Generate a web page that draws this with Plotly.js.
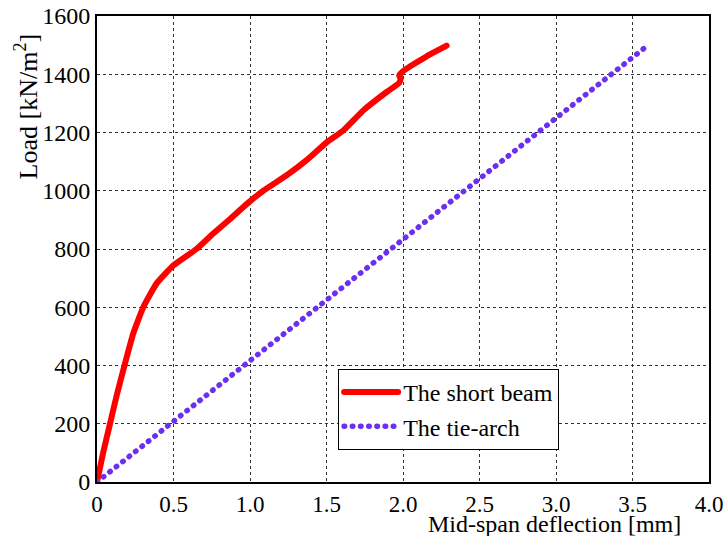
<!DOCTYPE html>
<html>
<head>
<meta charset="utf-8">
<script src="https://cdn.plot.ly/plotly-3.0.1.min.js"></script>
<style>
html,body{margin:0;padding:0;background:#fff;}
#chart path.js-line{stroke-linecap:round;stroke-linejoin:round;}
</style>
</head>
<body>
<div id="chart" style="width:727px;height:536px;"></div>
<script>
// Data
var beamX = [0, 0.04, 0.085, 0.13, 0.183, 0.237, 0.303, 0.39, 0.5, 0.65, 0.76, 0.87, 0.98, 1.087, 1.24, 1.37, 1.503, 1.61, 1.741, 1.893, 1.975, 1.985, 1.975, 2.0, 2.05, 2.15, 2.285];
var beamY = [0, 100, 200, 300, 407, 510, 601, 682, 744, 800, 853, 903, 955, 1000, 1053, 1105, 1167, 1207, 1276, 1339, 1370, 1385, 1395, 1410, 1428, 1460, 1498];
var archX = [0, 3.59];
var archY = [0, 1495];
var seriesNames = ["The short beam", "The tie-arch"];
var xTicks = [0, 0.5, 1.0, 1.5, 2.0, 2.5, 3.0, 3.5, 4.0];
var xTickText = ["0", "0.5", "1.0", "1.5", "2.0", "2.5", "3.0", "3.5", "4.0"];
var yTicks = [0, 200, 400, 600, 800, 1000, 1200, 1400, 1600];

var FONT = "Liberation Serif, serif";

var traces = [
  {x: beamX, y: beamY, mode: "lines", name: seriesNames[0],
   line: {color: "#ff0000", width: 6, shape: "spline", smoothing: 0.4}},
  {x: archX, y: archY, mode: "lines", name: seriesNames[1],
   line: {color: "#6a2ff0", width: 5.5, dash: "0.5px,7.7px"}}
];

var axisCommon = {
  showline: true, linecolor: "#000", linewidth: 2, mirror: true,
  showgrid: true, gridcolor: "#333", gridwidth: 1, griddash: "3px,3px",
  zeroline: false, ticks: ""
};

var layout = {
  width: 727, height: 536,
  margin: {l: 97, r: 18, t: 16, b: 54},
  paper_bgcolor: "#fff", plot_bgcolor: "#fff",
  font: {family: FONT, size: 24, color: "#000"},
  showlegend: true,
  xaxis: Object.assign({}, axisCommon, {range: [0, 4.0], tickvals: xTicks, ticktext: xTickText,
    tickfont: {family: FONT, size: 23, color: "#000"}}),
  yaxis: Object.assign({}, axisCommon, {range: [0, 1600], tickvals: yTicks,
    tickfont: {family: FONT, size: 24, color: "#000"}}),
  legend: {x: 0.394, y: 0.2425, xanchor: "left", yanchor: "top",
    bgcolor: "#fff", bordercolor: "#000", borderwidth: 1,
    font: {family: FONT, size: 24, color: "#000"}, itemwidth: 54, tracegroupgap: 0},
  annotations: [
    {text: "Mid-span deflection [mm]", xref: "paper", yref: "paper", x: 0.747, y: 0,
     xanchor: "center", yanchor: "middle", yshift: -42, borderpad: 0, showarrow: false,
     font: {family: FONT, size: 24, color: "#000"}},
    {text: "Load [kN/m<sup>2</sup>]", xref: "paper", yref: "paper", x: 0, y: 0.806,
     xanchor: "center", yanchor: "middle", xshift: -71, textangle: -90, borderpad: 0, showarrow: false,
     font: {family: FONT, size: 26, color: "#000"}}
  ]
};

Plotly.newPlot("chart", traces, layout, {displayModeBar: false, staticPlot: true});
</script>
</body>
</html>
